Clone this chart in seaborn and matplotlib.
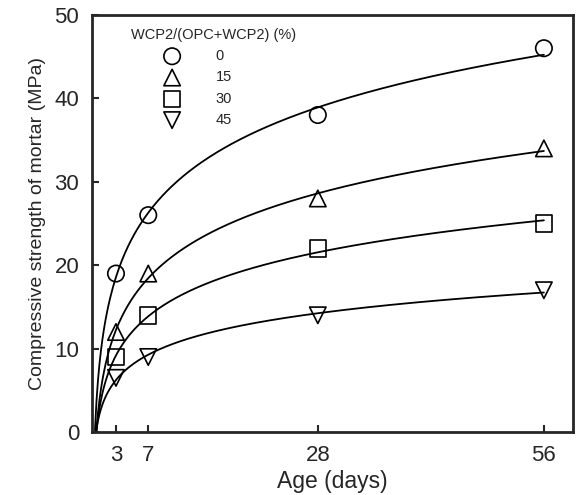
import matplotlib.pyplot as plt
import numpy as np
import pandas as pd
import seaborn as sns

days = [3, 7, 28, 56]
wcp0 = [19, 26, 38, 46]
wcp15 = [12, 19, 28, 34]
wcp30 = [9, 14, 22, 25]
wcp45 = [6.5, 9, 14, 17]
levels = ["0", "15", "30", "45"]
markers = ["o", "^", "s", "v"]

sns.set_style("ticks")
plt.rcParams['font.family'] = ['Liberation Sans', 'DejaVu Sans']

fig = plt.figure(figsize=(5.77, 4.95), dpi=100)
ax = fig.add_axes([0.159, 0.127, 0.834, 0.843])

t = np.linspace(0.4, 56, 300)
for vals, lab, m in zip([wcp0, wcp15, wcp30, wcp45], levels, markers):
    # log fit through the measured points
    k, b = np.polyfit(np.log(days), vals, 1)
    fit = pd.DataFrame({"t": t, "y": k * np.log(t) + b})
    sns.lineplot(data=fit, x="t", y="y", ax=ax, color="black", lw=1.3)
    sns.scatterplot(x=days, y=vals, ax=ax, marker=m, s=140, facecolors="none",
                    edgecolor="black", linewidth=1.2, label=lab, zorder=3)

ax.set_xlim(0, 59.6)
ax.set_ylim(0, 50)
ax.set_xticks(days)
ax.set_yticks([0, 10, 20, 30, 40, 50])
ax.tick_params(direction="in", length=5, width=1.5, labelsize=16, pad=9)
for s in ax.spines.values():
    s.set_linewidth(2)
ax.set_xlabel("Age (days)", fontsize=16.5, labelpad=3)
ax.set_ylabel("Compressive strength of mortar (MPa)", fontsize=14, labelpad=6)

leg = ax.legend(title="WCP2/(OPC+WCP2) (%)", loc="upper left", bbox_to_anchor=(0.07, 0.983),
                frameon=False, fontsize=10.5, title_fontsize=10.5, handlelength=5.6,
                handletextpad=0.2, labelspacing=0.5, borderaxespad=0)
leg._legend_box.align = "left"

fig.savefig("out.png", dpi=100)
